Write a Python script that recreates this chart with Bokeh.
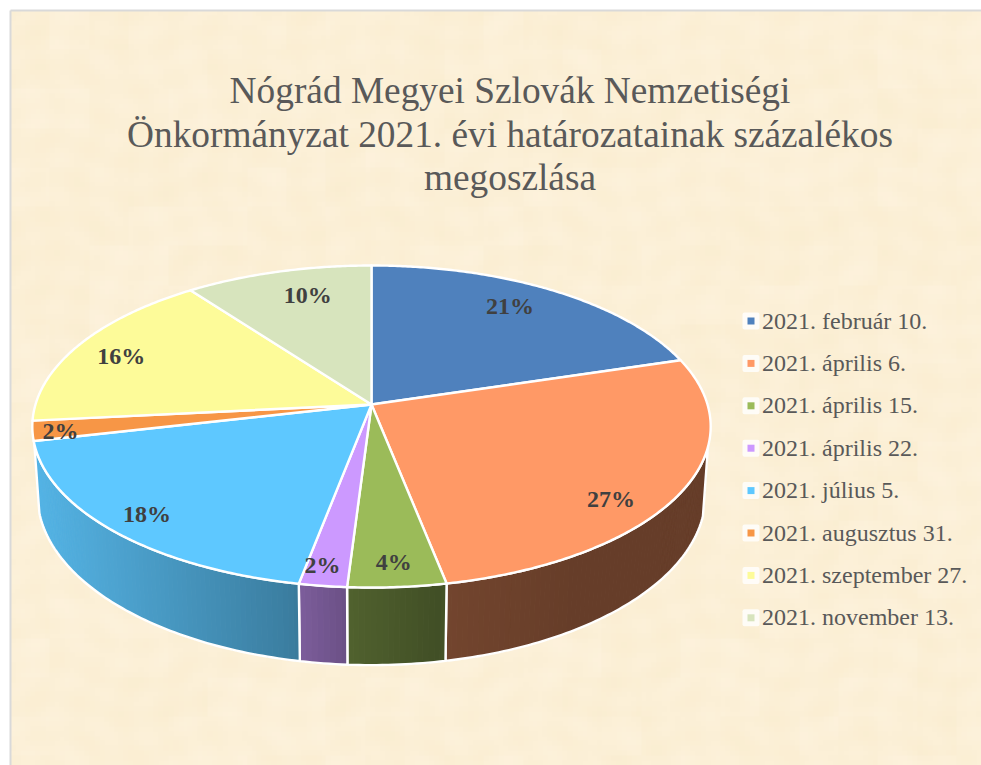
import numpy as np
from bokeh.plotting import figure
from bokeh.models import Range1d
from bokeh.core.properties import value
from bokeh.embed import file_html
from bokeh.resources import INLINE

title_lines = ["Nógrád Megyei Szlovák Nemzetiségi",
               "Önkormányzat 2021. évi határozatainak százalékos",
               "megoszlása"]
dates = ["2021. február 10.", "2021. április 6.", "2021. április 15.", "2021. április 22.",
         "2021. július 5.", "2021. augusztus 31.", "2021. szeptember 27.", "2021. november 13."]
shares = [20.3, 26.6, 4.1, 2.0, 18.4, 2.0, 16.4, 10.2]
pct_labels = ["21%", "27%", "4%", "2%", "18%", "2%", "16%", "10%"]
label_radius = [0.815, 0.86, 0.88, 0.90, 0.88, 0.92, 0.84, 0.79]
label_turn = [-3, 9, 0, 1, 0, -1, -1.5, 3]
colors = ["#4F81BD", "#FF9966", "#9BBB59", "#CC99FF", "#5EC8FF", "#F79646", "#FDFB99", "#D7E4BD"]

FONT = "Liberation Serif"
W, H = 981, 765
CX, CY = 371.0, 404.0   # apex of the pie on the page
A, B, K = 336.0, 158.0, 0.1367  # perspective of the disc
DEPTH = 67.0
BOTTOM_SHRINK = 0.985
RIM_FROM, RIM_TO = np.radians(105.0), np.radians(256.0)  # visible part of the rim


def project(theta, bottom=False):
    x, y = np.sin(theta), -np.cos(theta)
    s = 1 / (1 - K * y)
    a = A * BOTTOM_SHRINK if bottom else A
    return CX + a * x * s, CY + B * y * s + (DEPTH * s if bottom else 0.0)


def shade(hex_color, f):
    rgb = [int(hex_color[i:i + 2], 16) for i in (1, 3, 5)]
    return "#%02x%02x%02x" % tuple(int(round(c * f)) for c in rgb)


p = figure(width=W, height=H, output_backend="svg", toolbar_location=None,
           x_range=Range1d(0, W), y_range=Range1d(H, 0),
           min_border=0, outline_line_color=None, background_fill_color="white",
           border_fill_color="white")
p.axis.visible = False
p.grid.visible = False

# parchment background: faint blocky mottling (decoration only, no data)
step = 5
ny, nx = int(H / step) + 1, int(W / step) + 1
yy, xx = np.mgrid[0:ny, 0:nx].astype(float)
bx_, by_ = np.floor(xx / 8.0), np.floor(yy / 8.0)
blocks = np.modf(np.abs(np.sin(bx_ * 12.9898 + by_ * 78.233) * 43758.5453))[0] * 2 - 1
fine = (np.sin(xx * 0.71 + 1.7 * np.sin(yy * 0.23)) + np.sin(yy * 0.83 + 1.9 * np.sin(xx * 0.19))) / 2
m = 0.35 * blocks + 0.5 * fine
img = np.zeros((ny, nx), dtype=np.uint32)
view = img.view(dtype=np.uint8).reshape((ny, nx, 4))
view[..., 0] = np.clip(252 + m * 1.5, 0, 255)
view[..., 1] = np.clip(240 + m * 2.5, 0, 255)
view[..., 2] = np.clip(215 + m * 6.0, 0, 255)
view[..., 3] = 255
p.image_rgba(image=[img], x=10, y=10, dw=W - 10, dh=H - 10)
p.line([10, 10], [10, H], line_color="#D9D9D9", line_width=2)
p.line([10, W], [10, 10], line_color="#D9D9D9", line_width=2)

# slice angles
edges = np.radians(np.concatenate([[0.0], np.cumsum(shares)]) / np.sum(shares) * 360.0)
mids = (edges[:-1] + edges[1:]) / 2

# rim: only the visible front part
for i in range(len(shares)):
    a0, a1 = max(edges[i], RIM_FROM), min(edges[i + 1], RIM_TO)
    if a1 <= a0:
        continue
    th = np.linspace(a0, a1, max(3, int(np.degrees(a1 - a0) * 1.2) + 1))
    tx, ty = project(th)
    bx, by = project(th, bottom=True)
    xs, ys, fills = [], [], []
    for j in range(len(th) - 1):
        xs.append([tx[j], tx[j + 1], bx[j + 1], bx[j]])
        ys.append([ty[j], ty[j + 1], by[j + 1], by[j]])
        pos = ((tx[j] + tx[j + 1]) / 2 - CX) / (A * 1.009)
        f = np.interp(pos, [-1, -0.25, -0.2, -0.07, 0.2, 0.22, 0.6, 1], [0.9, 0.63, 0.6, 0.52, 0.42, 0.45, 0.40, 0.40])
        fills.append(shade(colors[i], f))
    p.patches(xs, ys, fill_color=fills, line_color=fills, line_width=1)
    p.patch(list(tx) + list(bx[::-1]), list(ty) + list(by[::-1]), fill_alpha=0,
            line_color="white", line_width=2.4, line_join="round")

# top face
xs, ys = [], []
for i in range(len(shares)):
    th = np.linspace(edges[i], edges[i + 1], max(3, int(np.degrees(edges[i + 1] - edges[i]) * 2)))
    tx, ty = project(th)
    xs.append([CX] + list(tx))
    ys.append([CY] + list(ty))
p.patches(xs, ys, fill_color=colors, line_color="white", line_width=2.4, line_join="round")

# data labels
lab_x, lab_y = [], []
for mid, r, turn in zip(mids, label_radius, label_turn):
    ang = mid + np.radians(turn)
    x, y = r * np.sin(ang), -r * np.cos(ang)
    s = 1 / (1 - K * y)
    lab_x.append(CX + A * x * s)
    lab_y.append(CY + B * y * s)
p.text(lab_x, lab_y, text=pct_labels, text_font=value(FONT), text_font_style="bold",
       text_font_size="24px", text_color="#404040", text_align="center", text_baseline="middle")

# title
p.text([509.5] * 3, [90, 133.5, 177], text=title_lines, text_font=value(FONT), text_font_size="37.33px",
       text_color="#595959", text_align="center", text_baseline="alphabetic")

# legend
leg_y = [320.5 + 42.4 * i for i in range(len(dates))]
p.rect([750.5] * 8, leg_y, width=17, height=17, fill_color="white", fill_alpha=0.8, line_color=None,
       border_radius=2)
p.rect([750.5] * 8, leg_y, width=7, height=7, fill_color=colors, line_color=None)
p.text([761.5] * 8, [y - 0.5 for y in leg_y], text=dates, text_font=value(FONT), text_font_size="24px",
       text_color="#595959", text_align="left", text_baseline="alphabetic")

open("out.html", "w").write(file_html(p, INLINE))
